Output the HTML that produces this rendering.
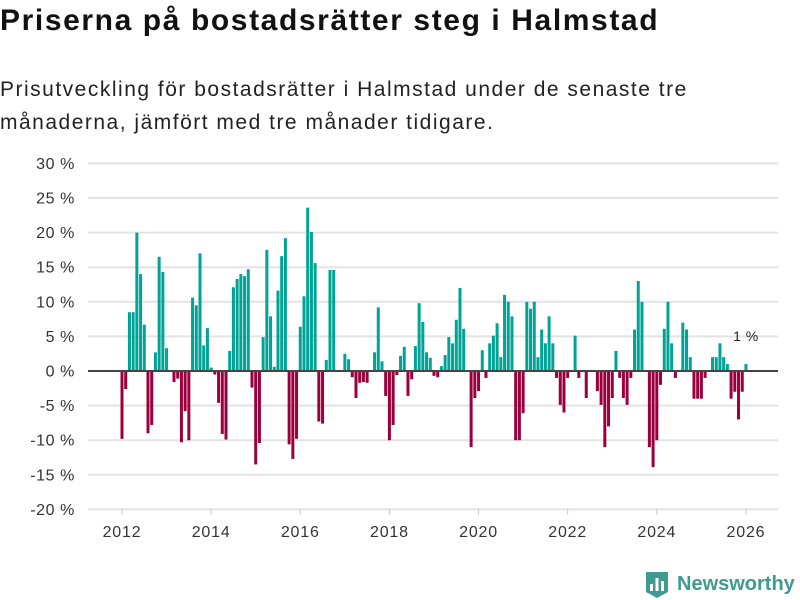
<!DOCTYPE html>
<html><head><meta charset="utf-8"><style>
body{margin:0;background:#fff;font-family:"Liberation Sans","DejaVu Sans",sans-serif;}
#wrap{position:relative;width:800px;height:600px;overflow:hidden}
h1{position:absolute;left:0;top:4px;margin:0;font-size:30px;font-weight:bold;color:#111;letter-spacing:1.6px;white-space:nowrap}
.sub{position:absolute;left:0;top:73px;margin:0;font-size:21px;line-height:33px;color:#222;letter-spacing:1.5px;white-space:nowrap}
</style></head><body>
<div id="wrap">
<h1>Priserna på bostadsrätter steg i Halmstad</h1>
<p class="sub">Prisutveckling för bostadsrätter i Halmstad under de senaste tre<br>månaderna, jämfört med tre månader tidigare.</p>
<svg id="chart" width="800" height="600" style="position:absolute;left:0;top:0"></svg>
</div>
<script>
const values=[-9.8,-2.6,8.5,8.5,20,14,6.7,-9,-7.8,2.7,16.5,14.3,
3.3,0,-1.6,-1.1,-10.3,-5.8,-10,10.6,9.5,17,3.7,6.2,
0.5,-0.5,-4.6,-9.1,-9.9,2.9,12.1,13.3,14.0,13.7,14.7,-2.4,
-13.5,-10.4,4.9,17.5,7.9,0.6,11.6,16.6,19.2,-10.6,-12.7,-9.8,
6.4,10.8,23.6,20.1,15.6,-7.3,-7.6,1.6,14.6,14.6,0,0,
2.5,1.7,-0.9,-3.9,-1.7,-1.6,-1.7,0,2.7,9.2,1.4,-3.6,
-10,-7.8,-0.6,2.2,3.5,-3.6,-1.2,3.6,9.8,7.1,2.7,1.9,
-0.7,-0.9,0.7,2.3,4.9,4.0,7.4,12,6.1,0,-11,-3.9,
-2.9,3.0,-1.0,4.0,5.1,6.9,2.0,11,10,7.9,-10,-10,
-6.1,10,9,10,2.0,6.0,4.0,7.9,4.0,-1.0,-4.9,-6.0,
-1.0,0,5.1,-1.0,0,-3.9,0,0,-2.9,-4.9,-11,-8,
-3.9,2.9,-1,-3.9,-4.9,-1,6,13,10,0,-11,-13.9,
-10,-2,6.1,10,4,-1,0,7,6,2,-4,-4,
-4,-1,0,2,2,4,2,1,-4,-3,-7,-3,1];
const startYear=2012;
const yTicks=[30,25,20,15,10,5,0,-5,-10,-15,-20];
const xTickYears=[2012,2014,2016,2018,2020,2022,2024,2026];
const annotationText="1 %";
const NS="http://www.w3.org/2000/svg";
const svg=document.getElementById('chart');
function yS(v){return 371 - v*6.92;}
function xS(monthIndex){return 122 + monthIndex*3.714;}
function mk(tag,attrs,parent){const e=document.createElementNS(NS,tag);for(const k in attrs)e.setAttribute(k,attrs[k]);(parent||svg).appendChild(e);return e;}
yTicks.forEach(t=>{
  const g=mk('line',{x1:88,x2:778,y1:yS(t),y2:yS(t),stroke:'#e3e3e3','stroke-width':2});
  
  
  const l=mk('text',{x:75,y:yS(t)+5.5,'text-anchor':'end','font-size':16,'letter-spacing':0.6,fill:'#333','font-family':'Liberation Sans, sans-serif'});
  l.textContent=t+' %';
  
  
});
values.forEach((v,i)=>{
  const x=xS(i)-1.5;
  const y0=yS(0),y1=yS(v);
  const r=mk('rect',{x:x,width:3,y:Math.min(y0,y1),height:Math.abs(y1-y0),fill:v>=0?'#00a396':'#99003d'});
  
  
});
const zl=mk('line',{x1:88,x2:778,y1:yS(0),y2:yS(0),stroke:'#444','stroke-width':2});


xTickYears.forEach(yr=>{
  const x=xS((yr-startYear)*12);
  const tk=mk('line',{x1:x,x2:x,y1:509,y2:515,stroke:'#ccc','stroke-width':1});
  
  
  const l=mk('text',{x:x,y:537,'text-anchor':'middle','font-size':16,'letter-spacing':0.8,fill:'#333','font-family':'Liberation Sans, sans-serif'});
  l.textContent=yr;
  
  
});
const last=values.length-1;
const an=mk('text',{x:xS(last),y:yS(values[last])-23,'text-anchor':'middle','font-size':14,'letter-spacing':0.5,fill:'#222','font-family':'Liberation Sans, sans-serif'});
an.textContent=annotationText;


const lg=mk('g',{});


mk('path',{d:'M646 572 h22 v20 l-11 6 l-11 -6 z',fill:'#3f9a8f'},lg);
mk('rect',{x:650,y:584,width:3,height:7,fill:'#fff'},lg);
mk('rect',{x:655.5,y:578,width:3,height:13,fill:'#fff'},lg);
mk('rect',{x:661,y:581,width:3,height:10,fill:'#fff'},lg);
const lt=mk('text',{x:677,y:590,'font-size':20,'font-weight':'bold',fill:'#3f9a8f','font-family':'Liberation Sans, sans-serif'},lg);
lt.textContent='Newsworthy';
</script>
</body></html>
